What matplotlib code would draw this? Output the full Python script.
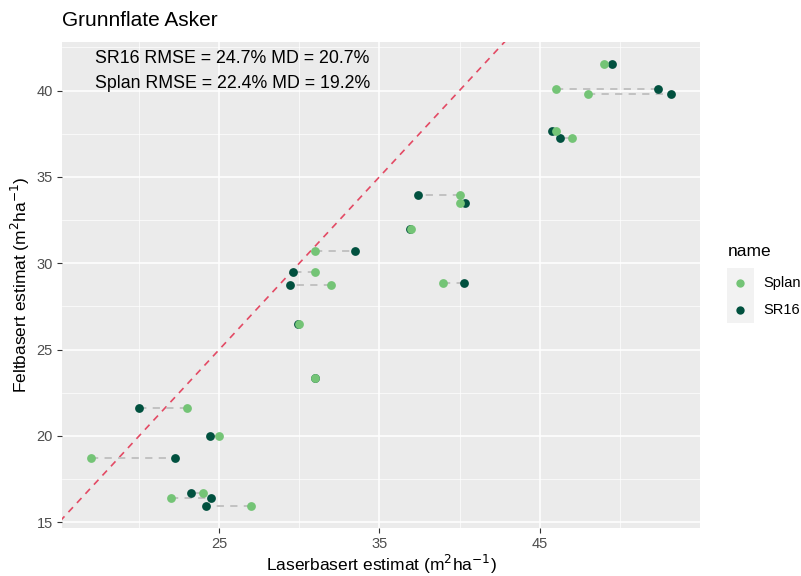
import matplotlib
matplotlib.use("Agg")
import matplotlib.pyplot as plt
from matplotlib.lines import Line2D
from matplotlib.patches import Rectangle
import numpy as np

plt.rcParams['font.family'] = ['Liberation Sans', 'DejaVu Sans']

# field-measured basal area (y) and the two laser-based estimates (x)
felt = [41.53, 40.1, 39.81, 37.68, 37.23, 33.93, 33.46, 31.98, 28.88, 30.72,
        29.52, 28.73, 26.47, 23.37, 21.63, 19.97, 18.73, 16.68, 16.41, 15.95]
splan = [49.0, 46.0, 48.0, 46.0, 47.0, 40.0, 40.0, 37.0, 39.0, 31.0,
         31.0, 32.0, 30.0, 31.0, 23.0, 25.0, 17.0, 24.0, 22.0, 27.0]
sr16 = [49.5, 52.4, 53.2, 45.8, 46.25, 37.4, 40.35, 36.9, 40.25, 33.45,
        29.6, 29.4, 29.9, 30.95, 20.0, 24.4, 22.25, 23.25, 24.5, 24.15]
stats = ["SR16 RMSE = 24.7% MD = 20.7%", "Splan RMSE = 22.4% MD = 19.2%"]
series = ["Splan", "SR16"]
colours = {"Splan": "#74C476", "SR16": "#01513F"}

grey_panel = "#EBEBEB"
txt_grey = "#4D4D4D"
W, H = 801, 576

fig = plt.figure(figsize=(W / 100, H / 100), dpi=100)
ax = fig.add_axes([62 / W, 48 / H, 638 / W, 486 / H])
ax.set_facecolor(grey_panel)
for s in ax.spines.values():
    s.set_visible(False)

# ggplot-style 5% expansion of the data range
allx = np.array(splan + sr16)
ally = np.array(felt)
dx = (allx.max() - allx.min()) * 0.05
dy = (ally.max() - ally.min()) * 0.05
ax.set_xlim(allx.min() - dx, allx.max() + dx)
ax.set_ylim(ally.min() - dy, ally.max() + dy)

ax.set_xticks([25, 35, 45])
ax.set_xticks([20, 30, 40, 50], minor=True)
ax.set_yticks([15, 20, 25, 30, 35, 40])
ax.set_yticks([17.5, 22.5, 27.5, 32.5, 37.5, 42.5], minor=True)
ax.grid(which="major", color="white", linewidth=1.1)
ax.grid(which="minor", color="white", linewidth=0.5)
ax.set_axisbelow(True)
ax.tick_params(which="major", length=3.5, color="#333333", labelcolor=txt_grey,
               labelsize=10.5, width=0.8, pad=3)
ax.tick_params(which="minor", length=0)

# 1:1 line
lo, hi = 14, 56
ax.plot([lo, hi], [lo, hi], linestyle=(0, (4, 3.5)), color="#E34A64",
        linewidth=1.2, zorder=1)

# connect the two estimates for each plot
for y, a, b in zip(felt, splan, sr16):
    ax.plot([a, b], [y, y], linestyle=(0, (4, 3.5)), color="#BEBEBE",
            linewidth=1.3, zorder=2)

ax.scatter(sr16, felt, s=40, color=colours["SR16"], zorder=3, linewidths=0)
ax.scatter(splan, felt, s=40, color=colours["Splan"], zorder=4, linewidths=0)

for i, t in enumerate(stats):
    ax.text(0.052, 0.966 - i * 0.052, t, transform=ax.transAxes, fontsize=12.8,
            color="black", ha="left", va="center")

ax.set_xlabel("Laserbasert estimat (m$^2$ha$^{-1}$)", fontsize=12.5, labelpad=1)
ax.set_ylabel("Feltbasert estimat (m$^2$ha$^{-1}$)", fontsize=12.5, labelpad=3)
fig.text(62 / W, 1 - 20 / H, "Grunnflate Asker", fontsize=15,
         ha="left", va="center")

# legend: grey key box, dots and labels
fig.text(728 / W, 1 - 252 / H, "name", fontsize=12.5, ha="left", va="center")
fig.patches.append(Rectangle((727 / W, 1 - 323 / H), 27 / W, 55 / H,
                             transform=fig.transFigure, facecolor="#F2F2F2",
                             edgecolor="none"))
for n, yk in zip(series, [283, 310]):
    fig.add_artist(Line2D([740 / W], [1 - yk / H], linestyle="", marker="o",
                          markersize=6, markeredgewidth=0, color=colours[n],
                          transform=fig.transFigure))
    fig.text(763 / W, 1 - yk / H, n, fontsize=10.5, ha="left", va="center")

fig.savefig("out.png", dpi=100)
